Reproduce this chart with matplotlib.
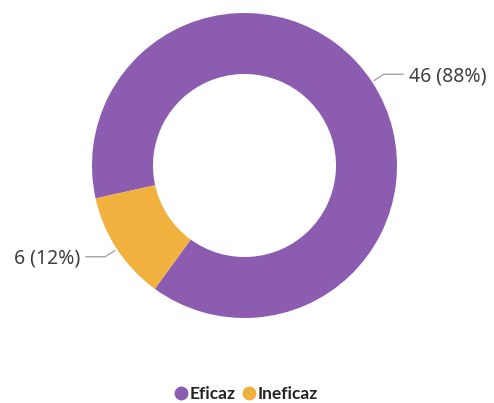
import matplotlib
matplotlib.use("Agg")
import matplotlib.pyplot as plt
from matplotlib.lines import Line2D
import numpy as np

categories = ["Eficaz", "Ineficaz"]
values = [46, 6]
colors = ["#8B5CAF", "#F1B13E"]

plt.rcParams['font.family'] = ['Noto Sans', 'DejaVu Sans']

W, H = 494, 403
fig = plt.figure(figsize=(W/100, H/100), dpi=100)
ax = fig.add_axes([0, 0, 1, 1])
ax.set_xlim(0, W)
ax.set_ylim(0, H)
ax.set_aspect('equal')
ax.axis('off')

cx, cy = 244.5, H - 165.5
R = 152.5
width = 61

wedges, _ = ax.pie(values, colors=colors, startangle=234, counterclock=True,
                   radius=R, center=(cx, cy),
                   wedgeprops=dict(width=width, edgecolor='none'))
ax.set_xlim(0, W)
ax.set_ylim(0, H)

total = sum(values)
for w, v in zip(wedges, values):
    mid = np.deg2rad((w.theta1 + w.theta2) / 2)
    x0 = cx + (R + 2) * np.cos(mid)
    y0 = cy + (R + 2) * np.sin(mid)
    x1 = cx + (R + 14) * np.cos(mid)
    y1 = cy + (R + 14) * np.sin(mid)
    side = 1 if np.cos(mid) > 0 else -1
    x2 = x1 + side * 20
    ax.plot([x0, x1, x2], [y0, y1, y1], color='#A6A6A6', lw=1.0,
            solid_capstyle='butt')
    label = f"{v} ({v/total*100:.0f}%)"
    ax.text(x2 + side * 5, y1 - 2, label, ha='left' if side > 0 else 'right',
            va='center', fontsize=14, color='#404040')

handles = [Line2D([], [], marker='o', linestyle='none', markersize=10,
                  markerfacecolor=c, markeredgecolor='none') for c in colors]
leg = ax.legend(handles, categories, loc='center', bbox_to_anchor=(245/W, 1 - 394/H),
                ncol=2, frameon=False, handletextpad=0.0, columnspacing=0.3,
                handlelength=1.0, prop=dict(family='Lato', weight='bold', size=12.5))
for t in leg.get_texts():
    t.set_color('#252423')

fig.savefig("out.png", dpi=100, facecolor='white')
